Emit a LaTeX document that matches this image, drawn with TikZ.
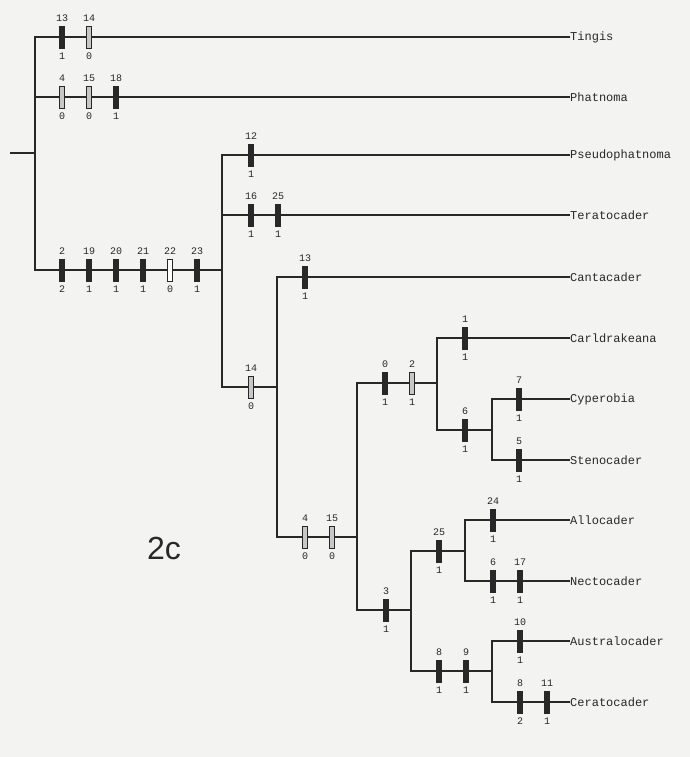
\documentclass[tikz,border=0pt]{standalone}
\usepackage{fontspec}
\newfontfamily\monof{Liberation Mono}
\newfontfamily\sansf{Liberation Sans}
\definecolor{bgc}{RGB}{243,243,241}
\definecolor{ink}{RGB}{40,40,40}
\newcommand\mbar[6]{%
  \node[#4] (#1) at (#2,#3) {};
  \node[num, anchor=south] (#1a) at ([yshift=4pt]#1.north) {#5};
  \node[num, anchor=north] (#1b) at ([yshift=-4pt]#1.south) {#6};
}
\begin{document}
\begin{tikzpicture}[x=1pt,y=-1pt,
  br/.style={line width=1.4pt, draw=ink},
  fb/.style={draw=ink, fill=ink, minimum width=5pt, minimum height=22pt, inner sep=0pt, line width=0.5pt},
  hb/.style={draw=ink, fill=black!22, minimum width=5pt, minimum height=22pt, inner sep=0pt, line width=0.8pt},
  wb/.style={draw=ink, fill=white, minimum width=5pt, minimum height=22pt, inner sep=0pt, line width=0.8pt},
  num/.style={font=\monof\fontsize{10}{10}\selectfont, text=ink, inner sep=0pt},
  taxon/.style={font=\monof\fontsize{12}{12}\selectfont, anchor=west, inner sep=0pt, text=ink}]
\fill[bgc] (0,0) rectangle (690,757);
\useasboundingbox (0,0) rectangle (690,757);

% taxa
\node[taxon] (Ting) at (570,37) {Tingis};
\node[taxon] (Phat) at (570,97) {Phatnoma};
\node[taxon] (Pseu) at (570,155) {Pseudophatnoma};
\node[taxon] (Tera) at (570,215) {Teratocader};
\node[taxon] (Cant) at (570,277) {Cantacader};
\node[taxon] (Carl) at (570,338) {Carldrakeana};
\node[taxon] (Cype) at (570,399) {Cyperobia};
\node[taxon] (Sten) at (570,460) {Stenocader};
\node[taxon] (Allo) at (570,520) {Allocader};
\node[taxon] (Nect) at (570,581) {Nectocader};
\node[taxon] (Aust) at (570,641) {Australocader};
\node[taxon] (Cera) at (570,702) {Ceratocader};

% internal nodes
\coordinate (stub) at (10,153);
\coordinate (A) at (35,153);
\coordinate (B) at (222,270);
\coordinate (C) at (277,387);
\coordinate (D) at (357,537);
\coordinate (E) at (437,383);
\coordinate (G) at (492,430);
\coordinate (F) at (411,610);
\coordinate (H) at (465,551);
\coordinate (I) at (492,671);

% branches
\draw[br] (stub) -- (A);
\draw[br] (Ting.west) -| (A);
\draw[br] (Phat.west) -| (A);
\draw[br] (B) -| (A);
\draw[br] (Pseu.west) -| (B);
\draw[br] (Tera.west) -| (B);
\draw[br] (C) -| (B);
\draw[br] (Cant.west) -| (C);
\draw[br] (D) -| (C);
\draw[br] (E) -| (D);
\draw[br] (F) -| (D);
\draw[br] (Carl.west) -| (E);
\draw[br] (G) -| (E);
\draw[br] (Cype.west) -| (G);
\draw[br] (Sten.west) -| (G);
\draw[br] (H) -| (F);
\draw[br] (I) -| (F);
\draw[br] (Allo.west) -| (H);
\draw[br] (Nect.west) -| (H);
\draw[br] (Aust.west) -| (I);
\draw[br] (Cera.west) -| (I);

% character bars
\mbar{t1}{62}{37}{fb}{13}{1}
\mbar{t2}{89}{37}{hb}{14}{0}
\mbar{p1}{62}{97}{hb}{4}{0}
\mbar{p2}{89}{97}{hb}{15}{0}
\mbar{p3}{116}{97}{fb}{18}{1}
\mbar{b1}{62}{270}{fb}{2}{2}
\mbar{b2}{89}{270}{fb}{19}{1}
\mbar{b3}{116}{270}{fb}{20}{1}
\mbar{b4}{143}{270}{fb}{21}{1}
\mbar{b5}{170}{270}{wb}{22}{0}
\mbar{b6}{197}{270}{fb}{23}{1}
\mbar{ps1}{251}{155}{fb}{12}{1}
\mbar{te1}{251}{215}{fb}{16}{1}
\mbar{te2}{278}{215}{fb}{25}{1}
\mbar{c1}{251}{387}{hb}{14}{0}
\mbar{ca1}{305}{277}{fb}{13}{1}
\mbar{d1}{305}{537}{hb}{4}{0}
\mbar{d2}{332}{537}{hb}{15}{0}
\mbar{e1}{385}{383}{fb}{0}{1}
\mbar{e2}{412}{383}{hb}{2}{1}
\mbar{cl1}{465}{338}{fb}{1}{1}
\mbar{g1}{465}{430}{fb}{6}{1}
\mbar{cy1}{519}{399}{fb}{7}{1}
\mbar{st1}{519}{460}{fb}{5}{1}
\mbar{f1}{386}{610}{fb}{3}{1}
\mbar{h1}{439}{551}{fb}{25}{1}
\mbar{al1}{493}{520}{fb}{24}{1}
\mbar{ne1}{493}{581}{fb}{6}{1}
\mbar{ne2}{520}{581}{fb}{17}{1}
\mbar{i1}{439}{671}{fb}{8}{1}
\mbar{i2}{466}{671}{fb}{9}{1}
\mbar{au1}{520}{641}{fb}{10}{1}
\mbar{ce1}{520}{702}{fb}{8}{2}
\mbar{ce2}{547}{702}{fb}{11}{1}

\node[font=\sansf\fontsize{32}{32}\selectfont, text=ink, inner sep=0pt] (lbl) at (164,548) {2c};
\end{tikzpicture}
\end{document}
